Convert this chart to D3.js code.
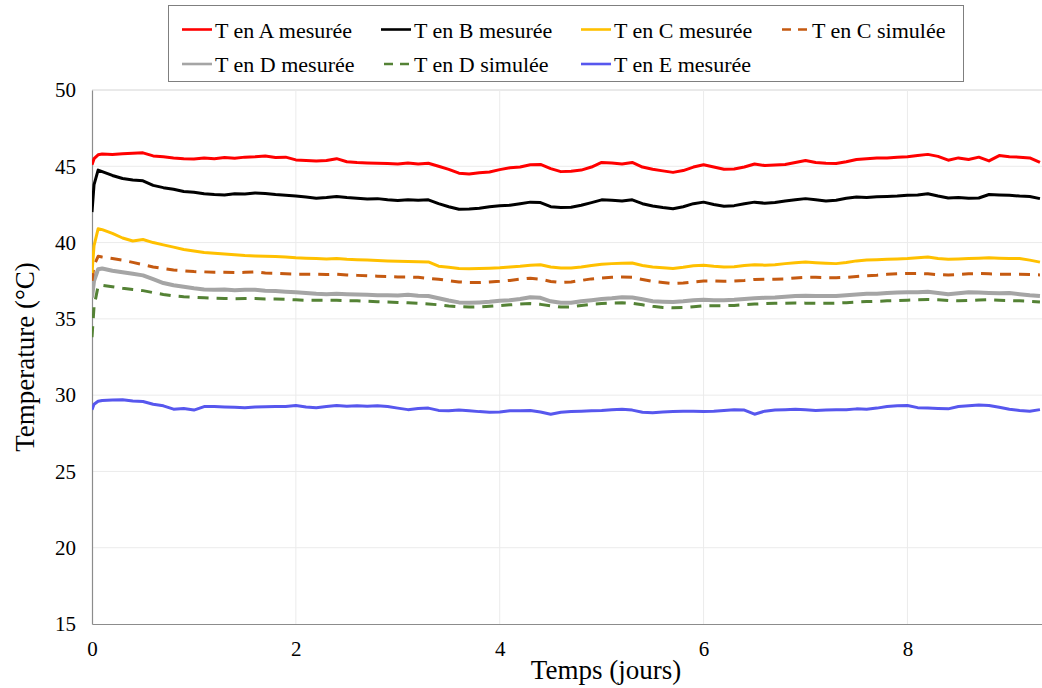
<!DOCTYPE html>
<html><head><meta charset="utf-8">
<script src="https://cdn.jsdelivr.net/npm/d3@7"></script>
<style>body{margin:0;background:#fff}svg{display:block}</style>
</head><body><svg id="c" width="1042" height="688"></svg>
<script>
const times = [0,0.02,0.06,0.1,0.2,0.3,0.4,0.5,0.6,0.7,0.8,0.9,1.0,1.1,1.2,1.3,1.4,1.5,1.6,1.7,1.8,1.9,2.0,2.1,2.2,2.3,2.4,2.5,2.6,2.7,2.8,2.9,3.0,3.1,3.2,3.3,3.4,3.5,3.6,3.7,3.8,3.9,4.0,4.1,4.2,4.3,4.4,4.5,4.6,4.7,4.8,4.9,5.0,5.1,5.2,5.3,5.4,5.5,5.6,5.7,5.8,5.9,6.0,6.1,6.2,6.3,6.4,6.5,6.6,6.7,6.8,6.9,7.0,7.1,7.2,7.3,7.4,7.5,7.6,7.7,7.8,7.9,8.0,8.1,8.2,8.3,8.4,8.5,8.6,8.7,8.8,8.9,9.0,9.1,9.2,9.3];

const tA = [45.1,45.5,45.75,45.8,45.78,45.82,45.85,45.88,45.68,45.62,45.55,45.5,45.48,45.55,45.5,45.57,45.52,45.6,45.62,45.68,45.58,45.6,45.42,45.38,45.35,45.38,45.5,45.3,45.25,45.22,45.2,45.18,45.15,45.22,45.15,45.2,45.0,44.8,44.55,44.5,44.58,44.62,44.78,44.9,44.95,45.1,45.12,44.85,44.65,44.68,44.75,44.95,45.25,45.22,45.15,45.25,44.95,44.8,44.7,44.6,44.72,44.95,45.1,44.95,44.8,44.82,44.95,45.15,45.05,45.08,45.12,45.25,45.38,45.25,45.2,45.18,45.3,45.45,45.5,45.55,45.55,45.6,45.62,45.7,45.78,45.65,45.4,45.55,45.45,45.6,45.35,45.7,45.62,45.6,45.55,45.25];
const tB = [42.0,43.8,44.75,44.65,44.4,44.2,44.1,44.05,43.75,43.6,43.5,43.35,43.3,43.2,43.15,43.12,43.2,43.18,43.25,43.22,43.15,43.1,43.05,42.98,42.9,42.95,43.02,42.95,42.9,42.85,42.88,42.8,42.75,42.8,42.78,42.8,42.55,42.35,42.18,42.2,42.25,42.35,42.42,42.45,42.55,42.65,42.62,42.35,42.3,42.32,42.45,42.62,42.8,42.78,42.72,42.8,42.55,42.4,42.3,42.22,42.35,42.55,42.65,42.5,42.38,42.42,42.55,42.65,42.58,42.62,42.72,42.8,42.88,42.8,42.72,42.78,42.9,42.98,42.95,43.0,43.02,43.05,43.1,43.12,43.2,43.05,42.92,42.95,42.9,42.92,43.15,43.12,43.1,43.05,43.02,42.88];
const tCmes = [38.0,39.8,40.9,40.85,40.6,40.3,40.1,40.2,40.0,39.85,39.7,39.55,39.45,39.35,39.3,39.25,39.2,39.15,39.12,39.1,39.08,39.05,39.0,38.98,38.95,38.93,38.95,38.9,38.88,38.85,38.82,38.8,38.78,38.76,38.75,38.73,38.45,38.38,38.3,38.28,38.3,38.32,38.35,38.4,38.45,38.52,38.55,38.4,38.33,38.33,38.4,38.5,38.58,38.62,38.65,38.66,38.5,38.4,38.35,38.3,38.38,38.48,38.52,38.45,38.4,38.42,38.5,38.55,38.52,38.55,38.62,38.68,38.72,38.68,38.65,38.62,38.7,38.8,38.85,38.88,38.9,38.92,38.95,39.0,39.05,38.95,38.9,38.92,38.95,38.98,39.0,38.98,38.95,38.95,38.85,38.72];
const tCsim = [37.5,38.5,39.1,39.05,38.95,38.85,38.7,38.55,38.4,38.3,38.2,38.15,38.1,38.08,38.05,38.05,38.03,38.05,38.08,38.0,37.98,37.95,37.93,37.92,37.92,37.9,37.92,37.88,37.85,37.82,37.8,37.78,37.75,37.75,37.72,37.65,37.6,37.5,37.42,37.38,37.38,37.42,37.46,37.52,37.6,37.66,37.6,37.45,37.38,37.42,37.52,37.62,37.68,37.72,37.75,37.72,37.58,37.45,37.38,37.32,37.35,37.42,37.48,37.48,37.46,37.48,37.52,37.58,37.6,37.6,37.62,37.68,37.72,37.72,37.7,37.7,37.72,37.78,37.82,37.86,37.92,37.95,37.97,37.98,37.95,37.9,37.88,37.9,37.95,37.97,37.95,37.93,37.93,37.92,37.9,37.88];
const tDmes = [36.4,37.5,38.25,38.3,38.15,38.05,37.95,37.85,37.6,37.35,37.2,37.1,37.0,36.92,36.9,36.92,36.88,36.9,36.9,36.85,36.82,36.78,36.75,36.7,36.65,36.62,36.65,36.62,36.6,36.58,36.55,36.55,36.53,36.58,36.52,36.5,36.35,36.2,36.08,36.05,36.08,36.12,36.18,36.22,36.3,36.42,36.38,36.15,36.05,36.05,36.15,36.22,36.3,36.35,36.42,36.4,36.28,36.15,36.12,36.1,36.15,36.22,36.25,36.22,36.22,36.25,36.3,36.35,36.38,36.4,36.45,36.5,36.52,36.5,36.5,36.5,36.55,36.6,36.65,36.65,36.7,36.72,36.75,36.75,36.78,36.7,36.62,36.68,36.75,36.72,36.7,36.68,36.7,36.62,36.55,36.5];
const tDsim = [33.8,35.8,37.15,37.2,37.1,37.0,36.92,36.85,36.72,36.6,36.5,36.45,36.42,36.38,36.35,36.33,36.32,36.33,36.33,36.3,36.3,36.28,36.25,36.22,36.22,36.22,36.22,36.2,36.18,36.15,36.12,36.1,36.08,36.05,36.02,35.98,35.92,35.85,35.8,35.77,35.78,35.82,35.87,35.92,35.97,36.0,35.95,35.85,35.77,35.78,35.88,35.96,36.0,36.04,36.05,36.02,35.92,35.82,35.75,35.72,35.74,35.8,35.85,35.86,35.86,35.88,35.92,35.97,36.0,36.02,36.03,36.04,36.03,36.02,36.02,36.03,36.06,36.1,36.13,36.15,36.18,36.2,36.22,36.25,36.27,36.25,36.2,36.18,36.2,36.24,36.25,36.22,36.2,36.18,36.15,36.1];
const tE = [29.05,29.4,29.6,29.65,29.68,29.7,29.62,29.58,29.4,29.3,29.08,29.12,29.02,29.25,29.25,29.22,29.2,29.18,29.22,29.24,29.25,29.26,29.32,29.22,29.18,29.25,29.32,29.28,29.3,29.28,29.3,29.26,29.15,29.05,29.12,29.15,29.0,28.98,29.02,28.98,28.92,28.88,28.9,28.98,28.98,29.0,28.9,28.75,28.88,28.92,28.95,28.98,29.0,29.05,29.08,29.02,28.88,28.85,28.9,28.92,28.95,28.95,28.92,28.95,29.0,29.05,29.02,28.75,28.95,29.02,29.05,29.08,29.05,29.0,29.02,29.05,29.05,29.1,29.08,29.15,29.25,29.3,29.32,29.18,29.15,29.12,29.1,29.25,29.3,29.35,29.32,29.2,29.08,29.0,28.95,29.05];

const seriesNames = ["T en A mesurée","T en B mesurée","T en C mesurée","T en C simulée","T en D mesurée","T en D simulée","T en E mesurée"];
const seriesValues = [tA,tB,tCmes,tCsim,tDmes,tDsim,tE];
const seriesColors = ["#ff0000","#000000","#ffc000","#c55a11","#a5a5a5","#548235","#5757ee"];
const seriesDashed = [false,false,false,true,false,true,false];
const yTicks = [15,20,25,30,35,40,45,50];
const xTicks = [0,2,4,6,8];

const SERIF = "'Liberation Serif', 'Times New Roman', serif";
const svg = d3.select("#c");
const L=92, R=1042, T=90, B=624;
const x = d3.scaleLinear().domain([0,9.32]).range([L,R]);
const y = d3.scaleLinear().domain([15,50]).range([B,T]);

// gridlines
svg.append("g").selectAll("line").data(yTicks.filter(v=>v>15)).join("line")
  .attr("x1",L).attr("x2",R).attr("y1",d=>y(d)).attr("y2",d=>y(d))
  .attr("stroke",d=>d===50?"#d4d4d4":"#ebebeb").attr("stroke-width",1);
svg.append("g").selectAll("line").data(xTicks.filter(v=>v>0)).join("line")
  .attr("x1",d=>x(d)).attr("x2",d=>x(d)).attr("y1",T).attr("y2",B)
  .attr("stroke","#ebebeb").attr("stroke-width",1);

// axes
const yAxis = svg.append("g").attr("transform",`translate(${L},0)`)
  .call(d3.axisLeft(y).tickValues(yTicks).tickSize(0).tickPadding(16));
yAxis.attr("font-family",null);
yAxis.select(".domain").attr("stroke","#8c8c8c").attr("stroke-width",1.2);
yAxis.selectAll("text").attr("font-size",21).attr("fill","#000")
  .style("font-family",SERIF);
const xAxis = svg.append("g").attr("transform",`translate(0,${B})`)
  .call(d3.axisBottom(x).tickValues(xTicks).tickSize(0).tickPadding(17).tickFormat(d3.format("d")));
xAxis.attr("font-family",null);
xAxis.select(".domain").attr("stroke","#8c8c8c").attr("stroke-width",1.2);
xAxis.selectAll("text").attr("font-size",21).attr("fill","#000")
  .style("font-family",SERIF);

// clip
svg.append("clipPath").attr("id","clip").append("rect")
  .attr("x",L).attr("y",T).attr("width",R-L).attr("height",B-T);

const line = d3.line().x((d,i)=>x(times[i])).y(d=>y(d));
const order = [6,5,4,3,2,1,0];
const lg = svg.append("g").attr("clip-path","url(#clip)");
order.forEach(k=>{
  lg.append("path").datum(seriesValues[k])
    .attr("d",line).attr("fill","none")
    .attr("stroke",seriesColors[k])
    .attr("stroke-width",k===4?4:3)
    .attr("stroke-linejoin","round")
    .attr("stroke-dasharray",seriesDashed[k]?"11,8":null);
});

// axis titles
svg.append("text").attr("x",606).attr("y",679).attr("text-anchor","middle")
  .attr("font-size",27).style("font-family",SERIF).text("Temps (jours)");
svg.append("text").attr("transform","translate(34,357) rotate(-90)")
  .attr("text-anchor","middle").attr("font-size",27).style("font-family",SERIF).text("Temperature (°C)");

// legend
const leg = svg.append("g");
leg.append("rect").attr("x",168.5).attr("y",5.5).attr("width",795).attr("height",76)
  .attr("fill","#fff").attr("stroke","#7f7f7f").attr("stroke-width",1);
const colX = [182,381,581,779];
seriesNames.forEach((n,i)=>{
  const cx = colX[i%4], cy = i<4?29.5:64;
  const g = leg.append("g");
  g.append("line").attr("x1",cx).attr("x2",cx+30).attr("y1",cy).attr("y2",cy)
    .attr("stroke",seriesColors[i]).attr("stroke-width",2.6)
    .attr("stroke-dasharray",seriesDashed[i]?"9,7":null)
    .attr("stroke-dashoffset",seriesDashed[i]?-3:null);
  g.append("text").attr("x",cx+33).attr("y",cy+8).attr("font-size",22)
    .style("font-family",SERIF).text(n);
});
</script></body></html>
